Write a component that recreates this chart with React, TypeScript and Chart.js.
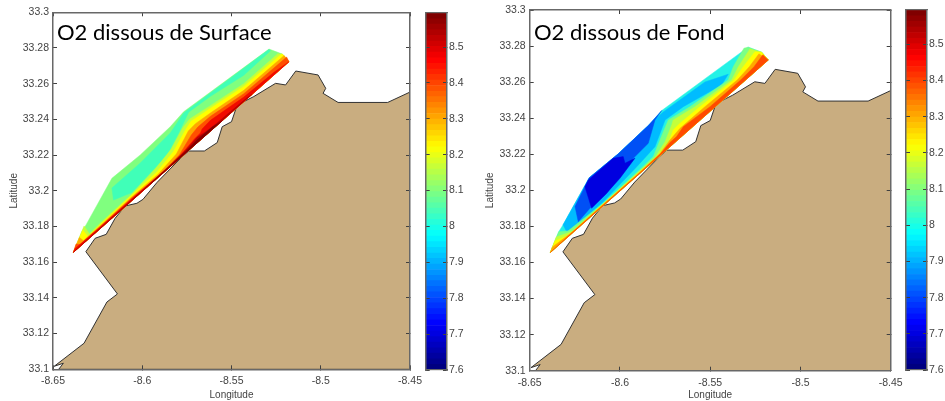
import { useEffect, useRef } from "react";
import { Chart, registerables } from "chart.js";

Chart.register(...registerables);

const lonTicks = [-8.65, -8.6, -8.55, -8.5, -8.45];
const latTicks = [33.1, 33.12, 33.14, 33.16, 33.18, 33.2, 33.22, 33.24, 33.26, 33.28, 33.3];
const scaleTicks = [7.6, 7.7, 7.8, 7.9, 8, 8.1, 8.2, 8.3, 8.4, 8.5];
const scaleEdges = [
  7.6, 7.616, 7.631, 7.647, 7.662, 7.678, 7.693, 7.709, 7.724, 7.74, 7.755, 7.771, 7.787, 7.802, 7.818, 7.833,
  7.849, 7.864, 7.88, 7.895, 7.911, 7.926, 7.942, 7.958, 7.973, 7.989, 8.004, 8.02, 8.035, 8.051, 8.066, 8.082,
  8.097, 8.113, 8.128, 8.144, 8.16, 8.175, 8.191, 8.206, 8.222, 8.237, 8.253, 8.268, 8.284, 8.299, 8.315, 8.331,
  8.346, 8.362, 8.377, 8.393, 8.408, 8.424, 8.439, 8.455, 8.47, 8.486, 8.502, 8.517, 8.533, 8.548, 8.564, 8.579, 8.595,
];

type Pt = [number, number];

const coast: Pt[] = [
  [-8.6468, 33.1], [-8.6442, 33.1034], [-8.6493, 33.1017], [-8.6326, 33.1146], [-8.6198, 33.1377], [-8.6139, 33.1422],
  [-8.6316, 33.1659], [-8.6264, 33.1734], [-8.6202, 33.1756], [-8.6152, 33.1846], [-8.6096, 33.1915], [-8.603, 33.193],
  [-8.5996, 33.1952], [-8.5918, 33.2046], [-8.5777, 33.2191], [-8.574, 33.2223], [-8.5652, 33.2223], [-8.558, 33.227],
  [-8.5552, 33.2359], [-8.55, 33.2387], [-8.5468, 33.2481], [-8.5375, 33.2528], [-8.5253, 33.2602], [-8.5197, 33.2593],
  [-8.514, 33.2671], [-8.5015, 33.2649], [-8.4972, 33.2574], [-8.4987, 33.2546], [-8.4903, 33.2495], [-8.4625, 33.2495],
  [-8.4494, 33.2556], [-8.45, 33.1], [-8.6468, 33.1],
];

const hull: Pt[] = [
  [-8.6386, 33.1655], [-8.6339, 33.1771], [-8.6315, 33.1809], [-8.617, 33.207], [-8.6011, 33.2201], [-8.5843, 33.2359],
  [-8.5768, 33.2443], [-8.529, 33.2794], [-8.5215, 33.2766], [-8.5178, 33.2723], [-8.6386, 33.1655],
];

// O2 dissous de Surface: isolines, outermost first
const surfaceBands: Pt[][] = [
  hull,
  [[-8.6161, 33.1948], [-8.617, 33.2016], [-8.6011, 33.2156], [-8.5843, 33.2324], [-8.5768, 33.2436], [-8.529, 33.2792],
    [-8.5281, 33.2785], [-8.5431, 33.2647], [-8.5618, 33.2529], [-8.574, 33.244], [-8.5796, 33.2324], [-8.5861, 33.2201], [-8.6058, 33.199], [-8.6161, 33.1948]],
  [[-8.6326, 33.1803], [-8.6296, 33.1758], [-8.6236, 33.1818], [-8.6058, 33.1982], [-8.5927, 33.2122], [-8.5837, 33.2234], [-8.577, 33.2357],
    [-8.5734, 33.2402], [-8.5618, 33.2477], [-8.5431, 33.26], [-8.524, 33.2768], [-8.5215, 33.2766], [-8.5178, 33.2723], [-8.6386, 33.1655], [-8.6326, 33.1803]],
  [[-8.6333, 33.178], [-8.6303, 33.1743], [-8.6236, 33.181], [-8.6058, 33.1976], [-8.5917, 33.2107], [-8.5826, 33.2219],
    [-8.5758, 33.2341], [-8.5727, 33.2389], [-8.5618, 33.2462], [-8.5431, 33.2585], [-8.5225, 33.2762], [-8.5215, 33.2766], [-8.5178, 33.2723], [-8.6386, 33.1655], [-8.6333, 33.178]],
  [[-8.6352, 33.1739], [-8.633, 33.1721], [-8.6236, 33.1804], [-8.6058, 33.1967], [-8.591, 33.2094], [-8.5809, 33.2206],
    [-8.5742, 33.2335], [-8.5702, 33.2376], [-8.5618, 33.2436], [-8.5431, 33.2563], [-8.5205, 33.2758], [-8.5178, 33.2723], [-8.6386, 33.1655], [-8.6352, 33.1739]],
  [[-8.6371, 33.1702], [-8.6348, 33.1699], [-8.6236, 33.18], [-8.6058, 33.1961], [-8.5888, 33.2102], [-8.5792, 33.2201], [-8.5725, 33.2313],
    [-8.5689, 33.2357], [-8.5618, 33.2417], [-8.5431, 33.2544], [-8.5191, 33.2749], [-8.5178, 33.2723], [-8.6386, 33.1655], [-8.6371, 33.1702]],
  [[-8.6378, 33.1675], [-8.6236, 33.1796], [-8.6058, 33.1956], [-8.5871, 33.2114], [-8.5787, 33.2198], [-8.5708, 33.229], [-8.5674, 33.2324],
    [-8.5665, 33.2346], [-8.5618, 33.2395], [-8.5431, 33.2525], [-8.5262, 33.2664], [-8.5178, 33.2723], [-8.6386, 33.1655], [-8.6378, 33.1675]],
  [[-8.6386, 33.1655], [-8.6236, 33.1792], [-8.6058, 33.195], [-8.5843, 33.2145], [-8.5758, 33.2226], [-8.5691, 33.2301], [-8.5646, 33.233], [-8.5581, 33.238], [-8.5412, 33.2522], [-8.5384, 33.2541], [-8.6386, 33.1655]],
  [[-8.5955, 33.2037], [-8.5758, 33.2218], [-8.5691, 33.2287], [-8.5607, 33.2357], [-8.5551, 33.2393], [-8.5955, 33.2037]],
];
const surfaceColors = ["#80ff7f", "#40ffb8", "#c4ff3b", "#ffff00", "#ffa800", "#ff5000", "#f00a00", "#b80000", "#800000"];

// O2 dissous de Fond: patches, outermost first
const bottomBands: Pt[][] = [
  hull,
  [[-8.6315, 33.1809], [-8.617, 33.207], [-8.6011, 33.2201], [-8.5843, 33.2359], [-8.576, 33.2435], [-8.5529, 33.2601],
    [-8.54, 33.2644], [-8.5436, 33.2585], [-8.5649, 33.2464], [-8.575, 33.239], [-8.5806, 33.2242], [-8.5907, 33.2131],
    [-8.6092, 33.1937], [-8.6231, 33.1818], [-8.6295, 33.1771], [-8.6315, 33.1809]],
  [[-8.6249, 33.191], [-8.617, 33.207], [-8.6011, 33.2201], [-8.5843, 33.2359], [-8.5768, 33.2443], [-8.5806, 33.239],
    [-8.5843, 33.2261], [-8.5926, 33.2178], [-8.6073, 33.1984], [-8.6166, 33.1901], [-8.6231, 33.1826], [-8.6249, 33.191]],
  [[-8.6175, 33.2058], [-8.6037, 33.2178], [-8.5982, 33.2187], [-8.5972, 33.215], [-8.5917, 33.2178], [-8.6, 33.2067],
    [-8.6083, 33.1974], [-8.6157, 33.1901], [-8.6194, 33.202], [-8.6175, 33.2058]],
  [[-8.6339, 33.1771], [-8.6288, 33.1775], [-8.6094, 33.1927], [-8.5889, 33.2116], [-8.5815, 33.2187], [-8.576, 33.2325],
    [-8.5732, 33.239], [-8.5612, 33.2464], [-8.54, 33.2612], [-8.5372, 33.2686], [-8.5313, 33.2788], [-8.529, 33.2794],
    [-8.5215, 33.2766], [-8.5178, 33.2723], [-8.6386, 33.1655], [-8.6339, 33.1771]],
  [[-8.6353, 33.1741], [-8.6266, 33.1772], [-8.6077, 33.1938], [-8.5889, 33.2108], [-8.5806, 33.2182], [-8.575, 33.227],
    [-8.5713, 33.2363], [-8.5705, 33.239], [-8.5584, 33.2464], [-8.5381, 33.2612], [-8.5344, 33.2686], [-8.528, 33.2784],
    [-8.5215, 33.2766], [-8.5178, 33.2723], [-8.6386, 33.1655], [-8.6353, 33.1741]],
  [[-8.636, 33.1719], [-8.6288, 33.1749], [-8.6055, 33.1958], [-8.5796, 33.2185], [-8.5732, 33.2261], [-8.5705, 33.2335],
    [-8.5667, 33.2372], [-8.5557, 33.2464], [-8.5368, 33.2612], [-8.5317, 33.2686], [-8.5252, 33.2769], [-8.5215, 33.2766],
    [-8.5178, 33.2723], [-8.6386, 33.1655], [-8.636, 33.1719]],
  [[-8.6374, 33.1686], [-8.6277, 33.1759], [-8.5889, 33.2102], [-8.5778, 33.2205], [-8.5723, 33.2279], [-8.5667, 33.2344],
    [-8.5529, 33.2464], [-8.535, 33.2612], [-8.5283, 33.2686], [-8.523, 33.2757], [-8.5178, 33.2723], [-8.6386, 33.1655], [-8.6374, 33.1686]],
  [[-8.6386, 33.1655], [-8.6277, 33.1755], [-8.6, 33.2001], [-8.5889, 33.2098], [-8.5778, 33.22], [-8.5723, 33.2265],
    [-8.5686, 33.2298], [-8.5649, 33.2353], [-8.5501, 33.2464], [-8.5331, 33.2612], [-8.5257, 33.2686], [-8.5208, 33.2752],
    [-8.5178, 33.2723], [-8.6386, 33.1655]],
];
const bottomColors = ["#24f2e6", "#00bcff", "#0050f5", "#0000e0", "#7aff86", "#c4ff3b", "#ffff00", "#ffa800", "#ff4a00"];

const LAND = "#c9ad80";
const AXIS = "#686868";
const LABEL = "#444444";
const TICK_FONT = { family: "'Liberation Sans'", size: 10.5 };
const TITLE_FONT = { family: "'Liberation Sans'", size: 10 };

function jet(t: number): string {
  const c = (v: number) => Math.round(255 * Math.max(0, Math.min(1, v)));
  const r = 1.5 - Math.abs(4 * t - 3);
  const g = 1.5 - Math.abs(4 * t - 2);
  const b = 1.5 - Math.abs(4 * t - 1);
  return `rgb(${c(r)},${c(g)},${c(b)})`;
}

function ticksOf(values: number[]) {
  return (scale: any) => {
    scale.ticks = values.map((value) => ({ value }));
  };
}

function clearPadding(s: any) {
  s.paddingLeft = 0;
  s.paddingRight = 0;
  s.paddingTop = 0;
  s.paddingBottom = 0;
}

function frameAxis(position: string, min: number, max: number, values: number[], labelled: boolean, size: number, title?: string, titlePad = 0, pad = 8) {
  const horizontal = position === "top" || position === "bottom";
  return {
    type: "linear",
    axis: horizontal ? "x" : "y",
    position,
    min,
    max,
    afterBuildTicks: ticksOf(values),
    afterFit: (s: any) => {
      if (horizontal) s.height = size;
      else s.width = size;
      clearPadding(s);
    },
    border: { color: AXIS, width: 1.5, z: 2 },
    grid: { drawOnChartArea: false, tickLength: -4, tickColor: "#404040", tickWidth: 1, z: 1 },
    ticks: {
      display: labelled,
      autoSkip: false,
      maxRotation: 0,
      padding: pad,
      color: LABEL,
      font: TICK_FONT,
      callback: (v: number) => String(v),
    },
    title: title
      ? { display: true, text: title, color: LABEL, font: TITLE_FONT, padding: { top: titlePad, bottom: 0 } }
      : { display: false },
  };
}

function polygonDataset(points: Pt[], color: string, stroke?: string) {
  return {
    data: points.map(([x, y]) => ({ x, y })),
    showLine: true,
    fill: "shape",
    backgroundColor: color,
    borderColor: stroke ?? color,
    borderWidth: stroke ? 1 : 0.5,
    borderDash: [4000, 1],
    pointRadius: 0,
    tension: 0,
  };
}

function mapConfig(bands: Pt[][], colors: string[], area: { top: number; right: number; yWidth: number; xHeight: number }) {
  const layers = [
    polygonDataset(coast, LAND, "#333333"),
    ...bands.map((b, i) => polygonDataset(b, colors[i])),
  ];
  return {
    type: "scatter",
    data: { datasets: layers.reverse() },
    options: {
      animation: false,
      responsive: false,
      layout: { autoPadding: false, padding: { left: 0, top: area.top, right: area.right, bottom: 0 } },
      plugins: { legend: { display: false }, tooltip: { enabled: false } },
      scales: {
        x: frameAxis("bottom", -8.65, -8.45, lonTicks, true, area.xHeight, "Longitude", 5, 10),
        y: frameAxis("left", 33.1, 33.3, latTicks, true, area.yWidth, "Latitude", 8, 8),
        xTop: frameAxis("top", -8.65, -8.45, lonTicks, false, 0),
        yRight: frameAxis("right", 33.1, 33.3, latTicks, false, 0),
      },
    },
  };
}

function barConfig(area: { left: number; top: number; bottom: number; width: number }) {
  const datasets = scaleEdges.slice(0, -1).map((lo, i) => ({
    data: [[lo, scaleEdges[i + 1]]],
    backgroundColor: jet(i / (scaleEdges.length - 2)),
    borderWidth: 0,
    barPercentage: 1,
    categoryPercentage: 1,
    xAxisID: "x",
    yAxisID: "y",
  }));
  const edge = (position: string) => ({
    type: "category",
    axis: "x",
    position,
    labels: ["O2"],
    stacked: true,
    afterFit: (s: any) => {
      s.height = 0;
      clearPadding(s);
    },
    border: { color: AXIS, width: 1.2, z: 2 },
    grid: { display: true, drawOnChartArea: false, drawTicks: false },
    ticks: { display: false },
  });
  return {
    type: "bar",
    data: { labels: ["O2"], datasets },
    options: {
      animation: false,
      responsive: false,
      layout: { autoPadding: false, padding: { left: area.left, top: area.top, right: 0, bottom: area.bottom } },
      plugins: { legend: { display: false }, tooltip: { enabled: false } },
      scales: {
        x: edge("bottom"),
        xTop: edge("top"),
        y: frameAxis("right", 7.6, 8.595, scaleTicks, true, area.width, undefined, 0, 6),
        yLeft: frameAxis("left", 7.6, 8.595, scaleTicks, false, 0),
      },
    },
  };
}

function Panel({ config, left, width }: { config: any; left: number; width: number }) {
  const ref = useRef<HTMLCanvasElement>(null);
  useEffect(() => {
    const chart = new Chart(ref.current as HTMLCanvasElement, config);
    return () => chart.destroy();
  }, [config]);
  return <canvas ref={ref} width={width} height={401} style={{ position: "absolute", left, top: 0, width, height: 401 }} />;
}

const leftMap = mapConfig(surfaceBands, surfaceColors, { top: 12.3, right: 15, yWidth: 53, xHeight: 31.7 });
const rightMap = mapConfig(bottomBands, bottomColors, { top: 10, right: 15.3, yWidth: 53.7, xHeight: 30.3 });
const leftBar = barConfig({ left: 5.7, top: 13, bottom: 31, width: 23 });
const rightBar = barConfig({ left: 6, top: 10, bottom: 31, width: 18 });

const titleStyle = {
  position: "absolute" as const,
  top: 16,
  fontFamily: "Lato, 'Open Sans', sans-serif",
  fontSize: 22,
  lineHeight: "32px",
  color: "#000",
  whiteSpace: "nowrap" as const,
};

export default function App() {
  return (
    <div style={{ position: "fixed", left: 0, top: 0, width: 945, height: 401, background: "#fff", overflow: "hidden" }}>
      <Panel config={leftMap} left={0} width={425} />
      <Panel config={leftBar} left={420} width={50} />
      <Panel config={rightMap} left={476} width={430} />
      <Panel config={rightBar} left={900} width={45} />
      <div style={{ ...titleStyle, left: 57 }}>O2 dissous de Surface</div>
      <div style={{ ...titleStyle, left: 534 }}>O2 dissous de Fond</div>
    </div>
  );
}
